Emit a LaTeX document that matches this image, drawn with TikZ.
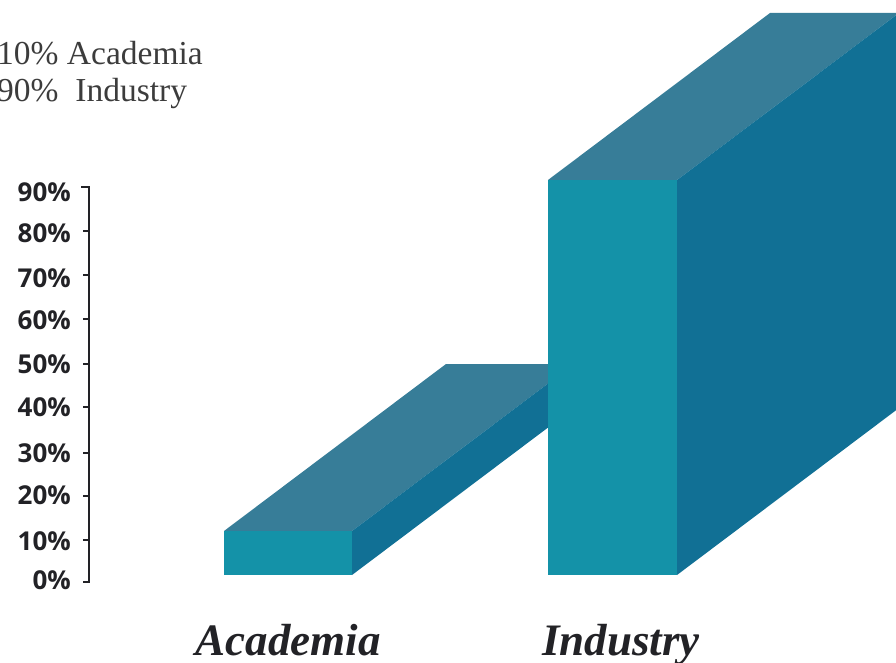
\documentclass[tikz,border=0pt]{standalone}
\usepackage{fontspec}
\newfontfamily\legendfont{Liberation Serif}
\newfontfamily\axisfont{Open Sans}
\newfontfamily\catfont{Liberation Serif}
\definecolor{frontc}{RGB}{20,146,168}
\definecolor{topc}{RGB}{55,125,152}
\definecolor{sidec}{RGB}{17,112,149}
\definecolor{inkc}{RGB}{34,34,38}
\definecolor{legc}{RGB}{60,60,60}
\tikzset{
  frontface/.style={fill=frontc,draw=none},
  topface/.style={fill=topc,draw=none},
  sideface/.style={fill=sidec,draw=none},
  axisline/.style={draw=inkc,line width=2pt},
  ticklabel/.style={anchor=east,inner sep=0pt,font=\axisfont\bfseries\fontsize{26}{26}\selectfont,text=inkc},
  catlabel/.style={anchor=base,inner sep=0pt,font=\catfont\bfseries\itshape\fontsize{45}{45}\selectfont,text=inkc},
  leglabel/.style={anchor=base west,inner sep=0pt,font=\legendfont\fontsize{33.5}{33.5}\selectfont,text=legc}
}
\begin{document}
\begin{tikzpicture}[x=1pt,y=-1pt]
\useasboundingbox (0,0) rectangle (896,663);
\clip (0,0) rectangle (896,663);
% Academia bar
\fill[topface] (224,531) -- (352,531) -- (574,364) -- (446,364) -- cycle;
\fill[sideface] (352,575) -- (352,531) -- (574,364) -- (574,408) -- cycle;
\fill[frontface] (224,531) rectangle (352,575);
% Industry bar
\fill[topface] (548,180) -- (677,180) -- (899,13) -- (770,13) -- cycle;
\fill[sideface] (677,575) -- (677,180) -- (899,13) -- (899,408) -- cycle;
\fill[frontface] (548,180) rectangle (677,575);
% axis
\draw[axisline] (81,187) -- (89,187) -- (89,582) -- (83,582);
\foreach \yy in {231,275,319,364,407,453,496,540} \draw[axisline] (83,\yy) -- (89,\yy);
\node[ticklabel] (t90) at (71,192) {90\%};
\node[ticklabel] (t80) at (71,233) {80\%};
\node[ticklabel] (t70) at (71,278) {70\%};
\node[ticklabel] (t60) at (71,320) {60\%};
\node[ticklabel] (t50) at (71,364) {50\%};
\node[ticklabel] (t40) at (71,407) {40\%};
\node[ticklabel] (t30) at (71,453) {30\%};
\node[ticklabel] (t20) at (71,495) {20\%};
\node[ticklabel] (t10) at (71,541) {10\%};
\node[ticklabel] (t0) at (71,580) {0\%};
% legend
\node[leglabel] (leg1) at (-3,65) {10\% Academia};
\node[leglabel] (leg2) at (-3,102) {90\%\ \ Industry};
% categories
\node[catlabel] (catA) at (288,655) {Academia};
\node[catlabel] (catI) at (621,655) {Industry};
\end{tikzpicture}
\end{document}
